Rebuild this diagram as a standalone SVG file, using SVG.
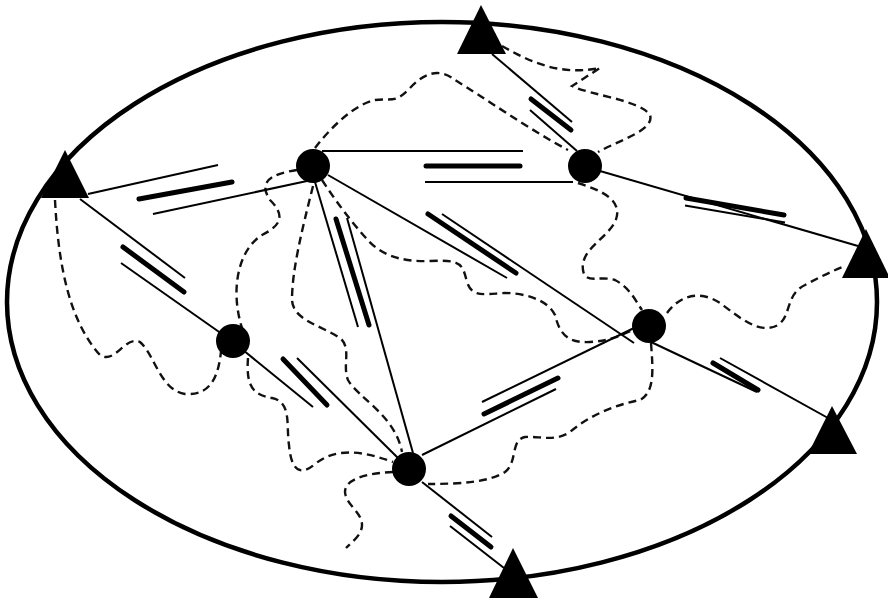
<svg xmlns="http://www.w3.org/2000/svg" width="888" height="602" viewBox="0 0 888 602">
<style>
.bg{fill:#fff}
.ell{fill:none;stroke:#000;stroke-width:4.5}
.tri{fill:#000}
.dot{fill:#000}
.ln{stroke:#000;stroke-width:2;fill:none;stroke-linecap:butt}
.bar{stroke:#000;stroke-width:5;fill:none;stroke-linecap:round}
.dash{stroke:#111;stroke-width:2.4;fill:none;stroke-dasharray:8 5}
</style>
<rect class="bg" width="888" height="602"/>
<g id="boundary"><ellipse class="ell" cx="442" cy="302" rx="435" ry="280"/></g>
<g id="dashed">
<path class="dash" d="M55,200 C58,260 68,320 100,355 C115,365 125,335 140,342 C155,355 160,390 185,394 C215,396 220,370 222,340"/>
<path class="dash" d="M248,358 C246,385 252,395 272,398 C292,402 286,425 289,445 C291,470 300,477 315,464 C335,448 360,450 393,462"/>
<path class="dash" d="M297,170 C270,174 258,182 270,200 C285,215 282,225 262,235 C238,250 230,290 242,328"/>
<path class="dash" d="M315,148 C330,128 355,104 375,100 C392,98 395,104 410,88 C425,72 440,68 455,80 C480,95 530,130 568,150"/>
<path class="dash" d="M502,46 C530,62 560,76 600,68 L572,86 C590,95 640,100 650,115 C655,130 620,140 598,152"/>
<path class="dash" d="M578,183 C600,190 625,200 615,222 C605,240 580,250 583,270 C585,285 600,275 615,280 C630,288 635,300 642,310"/>
<path class="dash" d="M667,313 C680,295 700,290 720,303 C740,318 760,335 778,325 C792,315 785,295 805,285 C820,277 832,271 845,266"/>
<path class="dash" d="M651,343 C653,370 655,392 640,400 C615,405 590,415 570,432 C555,442 540,436 525,437 C510,440 518,462 505,472 C490,482 460,484 428,484"/>
<path class="dash" d="M322,180 C335,200 350,220 365,237 C380,255 400,262 430,261 C460,260 462,262 467,282 C472,298 485,294 505,293 C525,293 548,300 555,315 C560,335 568,343 590,342 C610,341 622,335 633,330"/>
<path class="dash" d="M313,186 C302,230 292,270 292,300 C293,320 320,325 340,338 C352,348 342,365 348,380 C358,398 395,415 402,452"/>
<path class="dash" d="M393,472 C370,473 345,478 345,492 C346,505 362,512 362,525 C362,535 352,542 346,548"/>
</g>
<g id="connectors">
<line class="ln" x1="88" y1="194" x2="218" y2="165"/>
<line class="bar" x1="139" y1="199" x2="232" y2="182"/>
<line class="ln" x1="153" y1="214" x2="307" y2="181"/>
<line class="ln" x1="80" y1="199" x2="185" y2="278"/>
<line class="bar" x1="123" y1="247" x2="184" y2="292"/>
<line class="ln" x1="121" y1="263" x2="222" y2="334"/>
<line class="ln" x1="243" y1="350" x2="313" y2="407"/>
<line class="bar" x1="283" y1="359" x2="327" y2="405"/>
<line class="ln" x1="297" y1="358" x2="399" y2="459"/>
<line class="ln" x1="322" y1="151" x2="523" y2="151"/>
<line class="bar" x1="426" y1="166" x2="520" y2="166"/>
<line class="ln" x1="425" y1="182" x2="573" y2="182"/>
<line class="ln" x1="315" y1="182" x2="358" y2="327"/>
<line class="bar" x1="336" y1="219" x2="369" y2="325"/>
<line class="ln" x1="347" y1="218" x2="413" y2="453"/>
<line class="ln" x1="328" y1="175" x2="507" y2="278"/>
<line class="bar" x1="428" y1="214" x2="516" y2="273"/>
<line class="ln" x1="442" y1="214" x2="634" y2="343"/>
<line class="ln" x1="422" y1="455" x2="556" y2="389"/>
<line class="bar" x1="484" y1="414" x2="558" y2="378"/>
<line class="ln" x1="482" y1="402" x2="634" y2="328"/>
<line class="ln" x1="492" y1="54" x2="572" y2="122"/>
<line class="bar" x1="531" y1="99" x2="571" y2="130"/>
<line class="ln" x1="530" y1="110" x2="577" y2="151"/>
<line class="ln" x1="600" y1="171" x2="858" y2="246"/>
<line class="bar" x1="686" y1="198" x2="784" y2="215"/>
<line class="ln" x1="685" y1="205.5" x2="785" y2="222.5"/>
<line class="ln" x1="651" y1="342" x2="757" y2="392"/>
<line class="bar" x1="713" y1="363" x2="758" y2="390"/>
<line class="ln" x1="720" y1="358" x2="828" y2="418"/>
<line class="ln" x1="422" y1="482" x2="492" y2="537"/>
<line class="bar" x1="451" y1="516" x2="491" y2="547"/>
<line class="ln" x1="450" y1="526" x2="504" y2="568"/>
</g>
<g id="T1"><polygon class="tri" points="65,150 41,198 89,198"/></g>
<g id="T2"><polygon class="tri" points="481,5 457,54 506,54"/></g>
<g id="T3"><polygon class="tri" points="866,229 842,278 890,278"/></g>
<g id="T4"><polygon class="tri" points="832,406 808,454 857,454"/></g>
<g id="T5"><polygon class="tri" points="513,548 489,598 538,598"/></g>
<g id="C1"><circle class="dot" cx="313" cy="166" r="17"/></g>
<g id="C2"><circle class="dot" cx="585" cy="166" r="17"/></g>
<g id="C3"><circle class="dot" cx="233" cy="341" r="17"/></g>
<g id="C4"><circle class="dot" cx="409" cy="469" r="17"/></g>
<g id="C5"><circle class="dot" cx="649" cy="326" r="17"/></g>
</svg>
